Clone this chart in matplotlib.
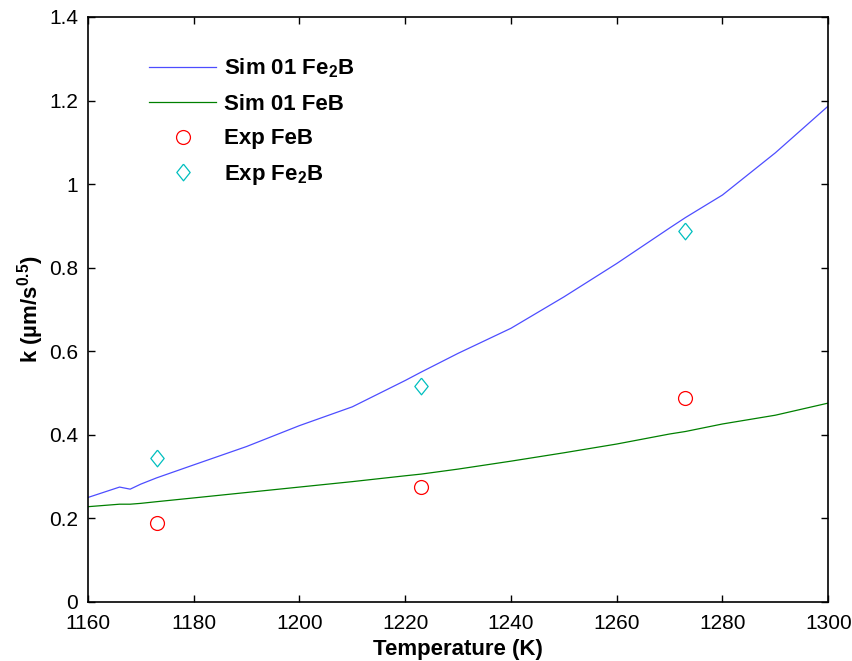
import matplotlib
matplotlib.use("Agg")
from matplotlib import pyplot as plt

plt.rcParams['font.family'] = ['Liberation Sans', 'DejaVu Sans']
plt.rcParams['mathtext.fontset'] = 'custom'
plt.rcParams['mathtext.rm'] = 'Liberation Sans'
plt.rcParams['mathtext.bf'] = 'Liberation Sans:bold'

# simulated curves
sim_temp = [1160, 1166, 1168, 1170, 1173, 1180, 1190, 1200, 1210, 1220, 1223, 1230,
            1240, 1250, 1260, 1270, 1273, 1280, 1290, 1300]
sim_fe2b = [0.250, 0.275, 0.270, 0.282, 0.297, 0.328, 0.372, 0.422, 0.467, 0.530, 0.550, 0.595,
            0.655, 0.730, 0.810, 0.895, 0.920, 0.974, 1.075, 1.187]
sim_feb = [0.228, 0.234, 0.234, 0.236, 0.240, 0.249, 0.262, 0.275, 0.288, 0.302, 0.306, 0.318,
           0.337, 0.357, 0.378, 0.402, 0.408, 0.426, 0.447, 0.476]

# experimental points
exp_temp = [1173, 1223, 1273]
exp_feb = [0.189, 0.275, 0.488]
exp_fe2b = [0.345, 0.517, 0.888]

y_ticks = [0, 0.2, 0.4, 0.6, 0.8, 1.0, 1.2, 1.4]
x_ticks = [1160, 1180, 1200, 1220, 1240, 1260, 1280, 1300]

# MATLAB-style diamond, a bit taller than wide
diamond = [(0, 1), (0.8, 0), (0, -1), (-0.8, 0), (0, 1)]

fig = plt.figure(figsize=(8.53, 6.61), dpi=100)
ax = fig.add_axes([0.103, 0.0893, 0.868, 0.885])

ax.plot(sim_temp, sim_fe2b, color=(0.3, 0.3, 1.0), linewidth=0.9, label=r'Sim 01 Fe$_\mathbf{2}$B')
ax.plot(sim_temp, sim_feb, color=(0.0, 0.5, 0.0), linewidth=0.9, label='Sim 01 FeB')
ax.plot(exp_temp, exp_feb, 'o', markerfacecolor='none', markeredgecolor='red',
        markersize=10, markeredgewidth=0.9, label='Exp FeB')
ax.plot(exp_temp, exp_fe2b, marker=diamond, linestyle='none', markerfacecolor='none',
        markeredgecolor=(0.0, 0.75, 0.75), markersize=12, markeredgewidth=0.9,
        label=r'Exp Fe$_\mathbf{2}$B')

ax.set_xlim(1160, 1300)
ax.set_ylim(0, 1.4)
ax.set_xticks(x_ticks)
ax.set_yticks(y_ticks)
ax.set_yticklabels(['%g' % v for v in y_ticks])
ax.tick_params(direction='in', top=True, right=True, labelsize=15, length=5, width=1)
ax.tick_params(axis='x', pad=9)
ax.tick_params(axis='y', pad=7)
for s in ax.spines.values():
    s.set_linewidth(1.2)

ax.set_xlabel('Temperature (K)', fontsize=16, fontweight='bold', labelpad=4)
ax.set_ylabel('k (µm/s$^{\\mathbf{0.5}}$)', fontsize=16, fontweight='bold', labelpad=2)

leg = ax.legend(loc='upper left', bbox_to_anchor=(0.056, 0.967), frameon=False,
                handlelength=3.0, handletextpad=0.35, labelspacing=0.62,
                prop={'size': 16, 'weight': 'bold'})

fig.savefig('out.png', dpi=100)
